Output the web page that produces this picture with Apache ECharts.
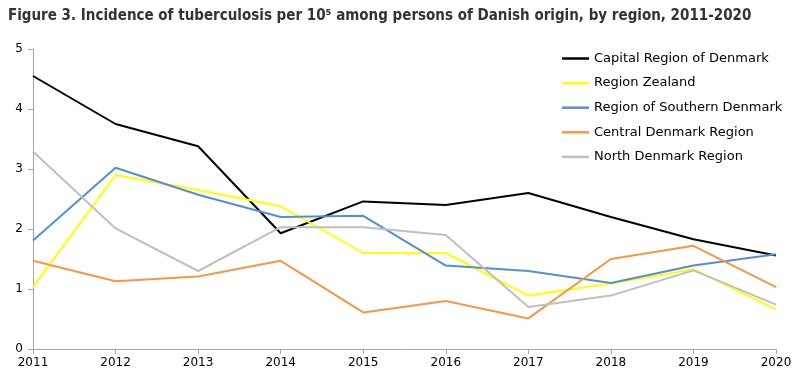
<!DOCTYPE html>
<html><head><meta charset="utf-8">
<script src="https://cdn.jsdelivr.net/npm/echarts@6/dist/echarts.min.js"></script>
<style>html,body{margin:0;padding:0;background:#fff}#c{width:800px;height:378px}</style>
</head><body><div id="c"></div>
<script>
const years = ['2011','2012','2013','2014','2015','2016','2017','2018','2019','2020'];
const capital = [4.55, 3.75, 3.38, 1.93, 2.46, 2.40, 2.60, 2.20, 1.83, 1.56];
const zealand = [1.03, 2.90, 2.65, 2.38, 1.60, 1.60, 0.89, 1.09, 1.33, 0.66];
const southern = [1.81, 3.02, 2.57, 2.20, 2.22, 1.39, 1.30, 1.10, 1.39, 1.58];
const central = [1.47, 1.13, 1.21, 1.47, 0.61, 0.80, 0.51, 1.50, 1.72, 1.03];
const north = [3.29, 2.01, 1.30, 2.03, 2.03, 1.90, 0.70, 0.89, 1.31, 0.74];
const names = ['Capital Region of Denmark','Region Zealand','Region of Southern Denmark','Central Denmark Region','North Denmark Region'];
const colors = ['#000000','#ffff00','#558ed5','#f79646','#bfbfbf'];
const seriesData = [capital, zealand, southern, central, north];

const chart = echarts.init(document.getElementById('c'));
chart.setOption({
  animation: false,
  title: {
    text: 'Figure 3. Incidence of tuberculosis per 10\u2075 among persons of Danish origin, by region, 2011-2020',
    left: 3, top: 4,
    textStyle: {fontFamily: 'DejaVu Sans Condensed', fontWeight: 'bold', fontSize: 15, color: '#333333'}
  },
  legend: {
    orient: 'vertical', left: 557, top: 46,
    icon: 'rect', itemWidth: 27, itemHeight: 2.5, itemGap: 9.6,
    textStyle: {fontFamily: 'DejaVu Sans', fontSize: 13, color: '#000', lineHeight: 15},
    data: names
  },
  grid: {left: 33, right: 24, top: 49, bottom: 29, containLabel: false},
  xAxis: {
    type: 'category', data: years, boundaryGap: false,
    axisLine: {lineStyle: {color: '#a6a6a6', width: 1}},
    axisTick: {show: true, length: 5, alignWithLabel: true, lineStyle: {color: '#a6a6a6'}},
    axisLabel: {color: '#000', fontFamily: 'DejaVu Sans', fontSize: 12, margin: 8, interval: 0}
  },
  yAxis: {
    type: 'value', min: 0, max: 5, interval: 1,
    axisLine: {show: true, lineStyle: {color: '#a6a6a6', width: 1}},
    axisTick: {show: true, length: 5, lineStyle: {color: '#a6a6a6'}},
    splitLine: {show: false},
    axisLabel: {color: '#000', fontFamily: 'DejaVu Sans', fontSize: 12, margin: 10}
  },
  series: seriesData.map((d, i) => ({
    name: names[i], type: 'line', data: d, symbol: 'none',
    lineStyle: {color: colors[i], width: 2},
    itemStyle: {color: colors[i]}
  }))
});
</script></body></html>
